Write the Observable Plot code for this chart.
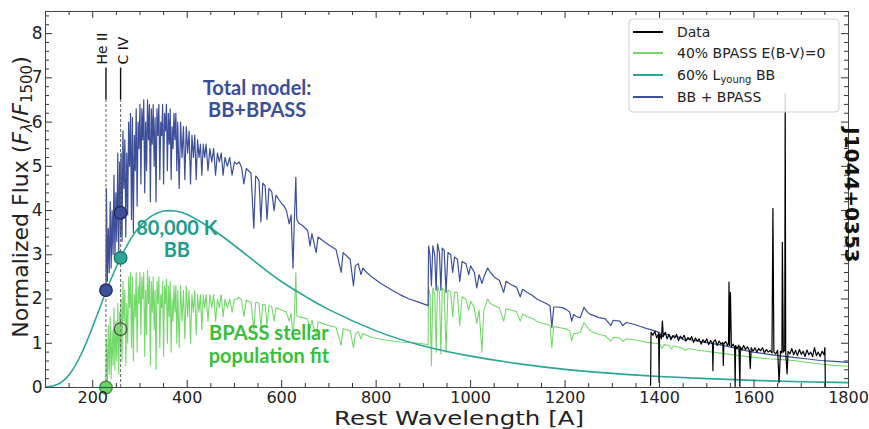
<!DOCTYPE html>
<html><head><meta charset="utf-8">
<script src="https://cdn.jsdelivr.net/npm/d3@7"></script>
<script src="https://cdn.jsdelivr.net/npm/@observablehq/plot@0.6"></script>
<style>
body{margin:0;background:#fff;}
#chart{width:869px;height:429px;}
</style></head><body><div id="chart"></div>
<script>
// ---- model spectra ----
const modelWave = [
228,229,231,233,235,237,239,241,243,245,247,249,251,253,255,257,259,
260,262,264,266,268,270,272,274,276,278,280,282,284,286,288,290,292,294,296,298,
300,302,304,306,308,310,312,314,316,318,320,322,324,326,328,330,332,334,336,338,
340,342,344,346,348,350,352,354,356,358,360,362,364,366,368,370,372,374,376,378,380,
383,386,389,392,395,398,401,404,407,410,413,416,419,422,425,428,431,434,437,440,
444,448,452,456,460,464,468,472,476,480,485,490,495,500,
505,510,515,520,525,530,535,541,545,548,552,556,560,565,569,573,579,584,588,594,
600,605,610,616,620,624,627,630,632,636,645,655,660,664,673,677,686,700,715,726,
730,745,752,756,762,768,772,780,792,810,834,850,870,890,910,
911,914,917,920,924,927,930,934,937,940,944,948,952,958,962,966,972,977,982,990,
996,1000,1008,1013,1018,1024,1028,1036,1042,1050,1061,1070,1075,1085,1097,1105,1110,1120,1131,1140,
1150,1160,1168,1172,1176,1185,1195,1203,1210,1214,1218,1225,1232,1240,1246,1252,1260,1272,1285,1297,
1302,1316,1322,1330,1345,1360,1373,1390,1400,1405,1410,1420,1425,1430,1443,1455,1460,1470,1490,1513,
1540,1570,1598,1630,1660,1683,1710,1740,1770,1800];
const bpassFlux = [
0,1.1,0.1,1.4,0.3,1.6,0.2,1.3,0.5,1.8,0.4,1.5,0.6,1.9,0.3,1.7,0.8,
2.0,0.6,2.4,1.5,2.2,0.5,1.9,1.0,2.5,1.8,2.6,0.9,2.5,0.6,2.1,1.6,2.6,0.8,2.3,1.9,
2.6,1.2,2.5,2.0,2.6,0.7,2.2,1.2,2.65,1.9,2.5,0.5,2.4,1.7,2.5,1.3,2.2,0.4,2.4,1.9,
2.5,0.9,2.1,1.8,2.4,0.7,2.3,1.9,2.45,1.0,2.3,1.6,2.4,0.8,2.0,1.5,2.3,1.7,2.3,1.0,2.2,
0.9,2.3,1.5,2.2,1.1,2.3,1.6,2.2,1.0,2.1,1.7,2.2,1.2,2.1,1.7,2.1,1.3,2.1,1.8,2.1,
1.5,2.1,1.8,2.1,1.5,2.0,1.8,2.1,1.6,2.0,1.8,2.0,1.7,2.0,
2.0,2.04,1.98,1.6,1.97,1.95,1.93,1.3,1.92,1.92,1.9,1.35,1.88,1.87,1.4,1.85,1.83,1.5,1.8,1.78,
1.75,1.73,1.7,1.5,1.68,1.1,1.66,2.6,1.62,1.6,1.58,1.55,1.3,1.52,1.15,1.48,1.45,1.4,1.36,0.95,
1.33,1.28,0.9,1.2,1.26,1.1,1.22,1.18,1.13,1.09,1.05,1.03,1.02,1.0,0.97,
2.25,2.1,0.5,2.25,2.1,0.8,2.3,2.15,0.75,2.25,2.2,0.8,2.2,2.15,1.6,2.15,2.15,1.4,2.05,2.0,
1.75,1.95,1.8,1.45,1.75,0.8,1.75,2.0,1.9,1.85,1.8,1.5,1.78,1.75,1.72,1.5,1.66,1.6,1.56,1.5,
1.46,1.43,1.4,0.9,1.38,1.36,1.34,1.32,1.28,1.05,1.22,1.22,1.25,1.47,1.38,1.3,1.24,1.2,1.17,1.05,
1.13,1.12,1.04,1.1,1.08,1.05,1.02,1.0,0.99,0.88,0.97,0.95,0.87,0.94,0.91,0.84,0.88,0.86,0.83,0.8,
0.76,0.72,0.68,0.65,0.63,0.61,0.57,0.53,0.5,0.48];
const totalFlux = [
2.2,4.5,2.4,3.6,2.6,4.2,2.7,4.0,3.0,4.8,2.9,4.4,3.3,5.3,3.0,5.1,3.4,
5.3,3.3,5.8,4.5,5.6,3.4,5.3,3.9,6.0,5.0,6.2,3.8,6.1,3.5,5.7,4.9,6.3,4.1,6.0,5.4,
6.4,4.6,6.3,5.6,6.5,4.4,6.0,4.9,6.5,5.6,6.4,4.2,6.3,5.5,6.4,5.0,6.1,4.2,6.3,5.7,
6.4,4.7,6.0,5.7,6.4,4.6,6.2,5.8,6.4,4.9,6.2,5.5,6.3,4.7,5.9,5.4,6.2,5.6,6.2,4.9,6.0,
4.5,6.0,5.2,5.9,4.7,5.9,5.3,5.8,4.6,5.7,5.2,5.7,4.7,5.6,5.2,5.5,4.8,5.5,5.2,5.5,
4.9,5.4,5.1,5.4,4.8,5.3,5.1,5.3,4.8,5.2,5.0,5.2,4.8,5.1,
5.05,5.1,4.98,4.6,4.95,4.9,4.85,3.6,4.78,4.75,4.68,3.75,4.62,4.56,3.8,4.5,4.42,4.0,4.35,4.25,
4.16,4.1,4.0,3.7,3.9,2.7,3.85,4.75,3.8,3.72,3.65,3.55,3.2,3.48,3.05,3.4,3.33,3.22,3.12,2.6,
3.05,2.9,2.3,2.75,2.8,2.55,2.7,2.6,2.49,2.35,2.2,2.1,2.0,1.93,1.85,
3.2,3.0,2.3,3.2,3.0,2.2,3.25,3.05,2.2,3.15,3.1,2.15,3.05,3.0,2.6,2.95,2.9,2.4,2.85,2.8,
2.55,2.75,2.6,2.25,2.55,2.35,2.5,2.7,2.6,2.5,2.42,2.15,2.4,2.33,2.27,2.05,2.22,2.15,2.08,2.0,
1.95,1.9,1.85,1.36,1.82,1.82,1.8,1.76,1.7,1.5,1.65,1.6,1.58,1.81,1.72,1.66,1.63,1.58,1.55,1.4,
1.52,1.5,1.4,1.47,1.43,1.38,1.33,1.28,1.24,1.14,1.22,1.19,1.12,1.17,1.13,1.06,1.1,1.07,1.03,0.99,
0.94,0.86,0.8,0.75,0.71,0.68,0.65,0.61,0.59,0.57];

// ---- 80,000 K blackbody ----
const bbWave = [100,125,150,175,200,225,250,275,300,325,350,375,400,450,500,550,600,650,700,800,900,1000,1100,1200,1300,1400,1500,1600,1700,1800];
const bbFlux = [0.01,0.07,0.29,0.74,1.38,2.08,2.73,3.26,3.65,3.88,3.99,3.99,3.91,3.60,3.21,2.79,2.39,2.06,1.76,1.28,0.94,0.71,0.54,0.41,0.32,0.25,0.20,0.16,0.13,0.11];

const dataWave = [1381,1382,1386,1390,1394,1398,1399,1400,1404,1406,1408,1412,1416,1420,1424,1428,1432,1436,1440,1444,
1448,1452,1456,1460,1464,1468,1472,1476,1480,1484,1488,1492,1496,1500,1504,1508,1512,1513,1514,1518,
1522,1526,1530,1534,1535,1536,1540,1544,1546,1547,1548,1550,1552,1556,1559,1560,1561,1564,1568,1570,
1571,1574,1578,1582,1586,1590,1592,1594,1598,1602,1606,1610,1614,1618,1622,1626,1630,1634,1638,1640,
1642,1646,1650,1653,1656,1659,1660,1662,1665,1666,1667,1670,1672,1676,1680,1684,1688,1692,1696,1700,
1704,1708,1712,1716,1720,1724,1728,1732,1736,1740,1744,1748,1750,1751];
const dataFlux = [0.05,1.25,1.18,1.27,1.12,1.22,0.12,1.2,1.1,1.5,1.15,1.25,1.1,1.2,1.08,1.17,1.12,1.2,1.06,1.16,
1.1,1.18,1.05,1.13,1.08,1.15,1.02,1.12,1.05,1.1,0.98,1.08,1.02,1.1,0.97,1.06,1.0,0.38,1.02,1.08,
0.95,1.05,0.98,1.02,0.5,0.98,1.04,0.95,1.0,2.38,0.95,2.15,0.92,0.98,0.9,0.02,0.95,0.88,0.96,0.02,
0.92,0.85,0.95,0.86,0.92,0.84,0.43,0.9,0.82,0.9,0.8,0.88,0.83,0.9,0.78,0.86,0.8,0.84,0.78,4.05,
0.8,0.76,0.84,0.11,0.82,0.78,3.28,0.8,0.85,6.65,0.8,0.31,0.82,0.76,0.88,0.74,0.84,0.72,0.86,0.75,
0.82,0.7,0.85,0.74,0.8,0.7,0.9,0.72,0.8,0.7,0.82,0.74,0.9,0.02];

// ---- ionisation edges and marked points ----
const edgeNames = ["He II", "C IV"];
const edgeWave = [228, 259];
const markerWave = [228, 228, 259, 259, 259];
const markerFlux = [2.2, 0, 3.95, 2.93, 1.32];
const markerKind = ["total", "bpassFilled", "total", "bb", "bpassOpen"];

// ---- ticks ----
const xMajor = [200,400,600,800,1000,1200,1400,1600,1800];
const xMinor = [150,250,300,350,450,500,550,650,700,750,850,900,950,1050,1100,1150,1250,1300,1350,1450,1500,1550,1650,1700,1750];
const yMajor = [0,1,2,3,4,5,6,7,8];
const yMinor = [0.2,0.4,0.6,0.8,1.2,1.4,1.6,1.8,2.2,2.4,2.6,2.8,3.2,3.4,3.6,3.8,4.2,4.4,4.6,4.8,5.2,5.4,5.6,5.8,6.2,6.4,6.6,6.8,7.2,7.4,7.6,7.8,8.2,8.4];

// ---- labels ----
const legendLabels = ["Data", "40% BPASS E(B-V)=0", "60% L|young| BB", "BB + BPASS"];
const noteText = ["Total model:\nBB+BPASS", "80,000 K\nBB", "BPASS stellar\npopulation fit"];
const noteWave = [548, 378, 573];
const noteFlux = [6.52, 3.36, 0.98];

// ---- styles ----
const GREEN = "#74d96b", TEAL = "#2ba596", BLUE = "#3d4f99", BLACK = "#000";
const legendColors = [BLACK, GREEN, TEAL, BLUE];
const noteColors = ["#3b4e98", "#229c8c", "#38c038"];
const markerFill = {total: BLUE, bpassFilled: "#6fcf66", bb: TEAL, bpassOpen: "rgba(120,210,110,0.35)"};
const markerStroke = {total: "#1d2657", bpassFilled: "#3d8a38", bb: "#1b6a60", bpassOpen: "#4a4a4a"};

const model = modelWave.map((w, i) => ({w, bpass: bpassFlux[i], total: totalFlux[i]}));
const bb = bbWave.map((w, i) => ({w, f: bbFlux[i]}));
const obs = dataWave.map((w, i) => ({w, f: dataFlux[i]}));
const edges = edgeWave.map((w, i) => ({w, name: edgeNames[i]}));
const markers = markerWave.map((w, i) => ({w, f: markerFlux[i], fill: markerFill[markerKind[i]], stroke: markerStroke[markerKind[i]]}));
const notes = noteText.map((t, i) => ({t, w: noteWave[i], f: noteFlux[i], c: noteColors[i]}));

const X0 = 100, X1 = 1800, Y0 = 0, Y1 = 8.5;
const tkY = 0.158, tkYm = 0.09, tkX = 14.8, tkXm = 8.5;
const tickStroke = "#333";

const plot = Plot.plot({
  width: 869, height: 429,
  marginLeft: 45, marginRight: 21, marginTop: 11, marginBottom: 42,
  style: {fontFamily: "DejaVu Sans", fontSize: "16px", color: "#222", background: "#fff", overflow: "visible"},
  x: {domain: [X0, X1]},
  y: {domain: [Y0, Y1]},
  color: {type: "identity"},
  marks: [
    Plot.line(model, {x: "w", y: "bpass", stroke: GREEN, strokeWidth: 1.1}),
    Plot.line(model, {x: "w", y: "total", stroke: BLUE, strokeWidth: 1.2}),
    Plot.line(bb, {x: "w", y: "f", stroke: TEAL, strokeWidth: 1.6, curve: "natural"}),
    Plot.line(obs, {x: "w", y: "f", stroke: BLACK, strokeWidth: 1.2}),
    Plot.ruleX(edges, {x: "w", y1: 0, y2: 6.5, stroke: "#666", strokeWidth: 1, strokeDasharray: "3,2"}),
    Plot.ruleX(edges, {x: "w", y1: 6.5, y2: 7.22, stroke: "#111", strokeWidth: 1.4}),
    Plot.text(edges.slice(0, 1), {x: "w", y: 7.3, text: "name", rotate: -90, textAnchor: "start", fontSize: 14, fill: "#111", dx: -3}),
    Plot.text(edges.slice(1), {x: "w", y: 7.3, text: "name", rotate: -90, textAnchor: "start", fontSize: 14, fill: "#111", dx: 3}),
    Plot.dot(markers, {x: "w", y: "f", r: 6.3, fill: "fill", stroke: "stroke", strokeWidth: 1.2}),
    // ticks (inward, all four sides)
    Plot.ruleX(xMajor, {x: d => d, y1: Y0, y2: Y0 + tkY, stroke: tickStroke}),
    Plot.ruleX(xMajor, {x: d => d, y1: Y1 - tkY, y2: Y1, stroke: tickStroke}),
    Plot.ruleX(xMinor, {x: d => d, y1: Y0, y2: Y0 + tkYm, stroke: tickStroke}),
    Plot.ruleX(xMinor, {x: d => d, y1: Y1 - tkYm, y2: Y1, stroke: tickStroke}),
    Plot.ruleY(yMajor, {y: d => d, x1: X0, x2: X0 + tkX, stroke: tickStroke}),
    Plot.ruleY(yMajor, {y: d => d, x1: X1 - tkX, x2: X1, stroke: tickStroke}),
    Plot.ruleY(yMinor, {y: d => d, x1: X0, x2: X0 + tkXm, stroke: tickStroke}),
    Plot.ruleY(yMinor, {y: d => d, x1: X1 - tkXm, x2: X1, stroke: tickStroke}),
    Plot.axisX({ticks: xMajor, tickSize: 0, tickPadding: 4, label: null, tickFormat: d => String(d), fontSize: 16}),
    Plot.axisY({ticks: yMajor, tickSize: 0, tickPadding: 3, label: null, tickFormat: d => String(d), fontSize: 17}),
    Plot.frame({stroke: "#444", strokeWidth: 1}),
    Plot.text(notes, {x: "w", y: "f", text: "t", fill: "c", fontSize: 20, fontWeight: "bold", fontFamily: "Lato", lineHeight: 1.12, textAnchor: "middle"})
  ]
});

const svg = d3.select(plot);
// x axis label
svg.append("text").attr("x", 459).attr("y", 425).attr("text-anchor", "middle")
  .attr("textLength", 250).attr("lengthAdjust", "spacingAndGlyphs")
  .style("font-family", "DejaVu Sans").style("font-size", "20px").attr("fill", "#222").text("Rest Wavelength [A]");
// y axis label
const yl = svg.append("text").attr("transform", "translate(28,197) rotate(-90)").attr("text-anchor", "middle")
  .style("font-family", "DejaVu Sans").style("font-size", "22px").attr("fill", "#222");
yl.append("tspan").text("Normalized Flux (");
yl.append("tspan").attr("font-style", "italic").text("F");
yl.append("tspan").attr("font-style", "italic").attr("font-size", "15px").attr("dy", 4).text("λ");
yl.append("tspan").attr("dy", -4).text("/");
yl.append("tspan").attr("font-style", "italic").text("F");
yl.append("tspan").attr("font-size", "15px").attr("dy", 4).text("1500");
yl.append("tspan").attr("dy", -4).text(")");
// object name
svg.append("text").attr("transform", "translate(852,195) rotate(90)").attr("text-anchor", "middle").attr("dy", "0.35em")
  .style("font-family", "DejaVu Sans").style("font-size", "20px").style("font-weight", "bold").attr("fill", "#111").text("J1044+0353");
// legend
const lg = svg.append("g").attr("transform", "translate(629,19)");
lg.append("rect").attr("width", 210).attr("height", 93).attr("rx", 4)
  .attr("fill", "rgba(255,255,255,0.82)").attr("stroke", "#d0d0d0");
const rowY = [13, 34, 56, 78];
legendLabels.forEach((lab, i) => {
  lg.append("line").attr("x1", 4).attr("x2", 34).attr("y1", rowY[i]).attr("y2", rowY[i])
    .attr("stroke", legendColors[i]).attr("stroke-width", 2);
  const t = lg.append("text").attr("x", 48).attr("y", rowY[i]).attr("dy", "0.35em").attr("text-anchor", "start")
    .style("font-family", "DejaVu Sans").style("font-size", "14px").attr("fill", "#222");
  const parts = lab.split("|");
  if (parts.length === 3) {
    t.append("tspan").text(parts[0]);
    t.append("tspan").attr("font-size", "10px").attr("dy", 3).text(parts[1]);
    t.append("tspan").attr("dy", -3).text(parts[2]);
  } else t.text(lab);
});

document.getElementById("chart").appendChild(plot);
</script></body></html>
